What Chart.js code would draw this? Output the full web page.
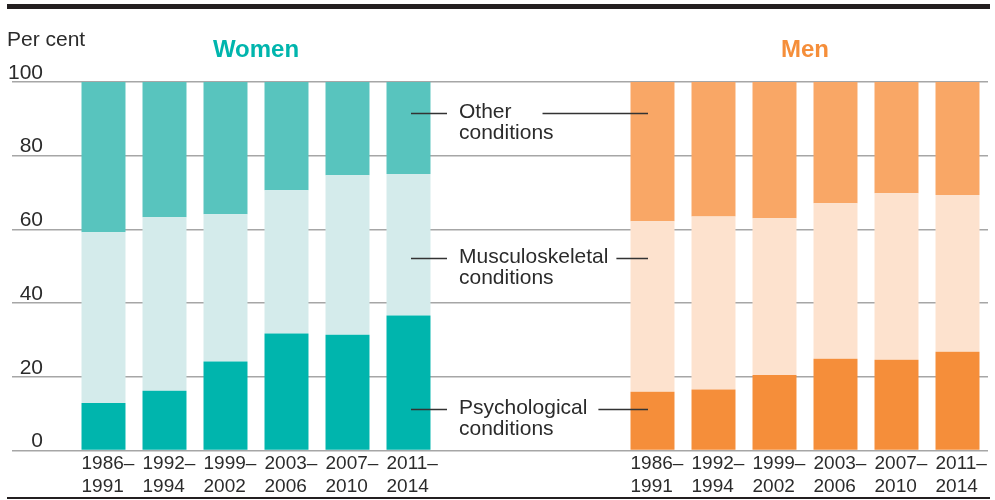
<!DOCTYPE html>
<html>
<head>
<meta charset="utf-8">
<script src="https://cdn.jsdelivr.net/npm/chart.js@4.4.1/dist/chart.umd.min.js"></script>
<style>
  html, body { margin: 0; padding: 0; background: #fff; }
  #wrap { width: 995px; height: 500px; }
</style>
</head>
<body>
<div id="wrap"><canvas id="chart" width="995" height="500"></canvas></div>
<script>
// Periods (x axis categories), same for both groups
const periods = [
    ['1986–', '1991'],
    ['1992–', '1994'],
    ['1999–', '2002'],
    ['2003–', '2006'],
    ['2007–', '2010'],
    ['2011–', '2014']
];

// Per cent shares, women
const womenPsych = [12.9, 16.2, 24.1, 31.7, 31.4, 36.6];
const womenMusc  = [46.3, 47.1, 40.0, 38.9, 43.3, 38.4];
const womenOther = [40.8, 36.7, 35.9, 29.4, 25.3, 25.0];

// Per cent shares, men
const menPsych = [15.9, 16.5, 20.5, 24.9, 24.6, 26.8];
const menMusc  = [46.3, 47.0, 42.5, 42.2, 45.2, 42.5];
const menOther = [37.8, 36.5, 37.0, 32.9, 30.2, 30.7];

const yTicks = [0, 20, 40, 60, 80, 100];

const groupTitles = ['Women', 'Men'];
const seriesNames = [['Other', 'conditions'], ['Musculoskeletal', 'conditions'], ['Psychological', 'conditions']];

// styling
const FONT = '"Liberation Sans", Arial, Helvetica, sans-serif';
const TEXT = '#2b2b2b';
const WOMEN = {psych: '#00b5ad', musc: '#d4ebeb', other: '#58c4be'};
const MEN = {psych: '#f58e3a', musc: '#fde2ce', other: '#f9a766'};

// layout: 1 empty slot, 6 women, 3 empty slots, 6 men
const labels = [''].concat(periods, ['', '', ''], periods);
const blank = [null, null, null];
const build = (w, m) => [null].concat(w, blank, m);
const colours = key => [null].concat(
    periods.map(() => WOMEN[key]), blank, periods.map(() => MEN[key]));

// where the label callouts sit (y value) and gap after the first text line
const callouts = [
    {names: seriesNames[0], value: 91.6, gap: 31},
    {names: seriesNames[1], value: 52.1, gap: 8},
    {names: seriesNames[2], value: 11.3, gap: 11}
];

const decor = {
    id: 'decor',
    beforeDraw(chart) {
        const ctx = chart.ctx;
        const x = chart.scales.x;
        ctx.save();
        // top and bottom rules
        ctx.fillStyle = '#231f20';
        ctx.fillRect(7, 4, 983, 5);
        ctx.fillRect(7, 497, 983, 2);

        ctx.fillStyle = TEXT;
        ctx.font = '21px ' + FONT;
        ctx.textAlign = 'left';
        ctx.textBaseline = 'alphabetic';
        ctx.fillText('Per cent', 7, 46);

        ctx.font = 'bold 24px ' + FONT;
        ctx.textAlign = 'center';
        ctx.fillStyle = WOMEN.psych;
        ctx.fillText(groupTitles[0], (x.getPixelForValue(1) + x.getPixelForValue(6)) / 2, 57);
        ctx.fillStyle = MEN.psych;
        ctx.fillText(groupTitles[1], (x.getPixelForValue(10) + x.getPixelForValue(15)) / 2, 57);
        ctx.restore();
    },
    afterDatasetsDraw(chart) {
        const ctx = chart.ctx;
        const x = chart.scales.x, y = chart.scales.y;
        const wx = x.getPixelForValue(6);
        const mx = x.getPixelForValue(10);
        ctx.save();
        ctx.strokeStyle = '#333';
        ctx.lineWidth = 1.5;
        ctx.fillStyle = TEXT;
        ctx.font = '21px ' + FONT;
        ctx.textAlign = 'left';
        ctx.textBaseline = 'middle';
        callouts.forEach(c => {
            const py = Math.round(y.getPixelForValue(c.value)) + 0.5;
            const tx = wx + 50.5;
            ctx.fillText(c.names[0], tx, py - 1);
            ctx.fillText(c.names[1], tx, py + 19.5);
            const endText = tx + ctx.measureText(c.names[0]).width;
            ctx.beginPath();
            ctx.moveTo(wx + 2.5, py);
            ctx.lineTo(wx + 38.5, py);
            ctx.moveTo(endText + c.gap, py);
            ctx.lineTo(mx - 4.5, py);
            ctx.stroke();
        });
        ctx.restore();
    }
};

new Chart(document.getElementById('chart'), {
    type: 'bar',
    data: {
        labels: labels,
        datasets: [
            {label: 'Psychological conditions', data: build(womenPsych, menPsych), backgroundColor: colours('psych')},
            {label: 'Musculoskeletal conditions', data: build(womenMusc, menMusc), backgroundColor: colours('musc')},
            {label: 'Other conditions', data: build(womenOther, menOther), backgroundColor: colours('other')}
        ]
    },
    options: {
        responsive: false,
        animation: false,
        devicePixelRatio: 1,
        layout: {padding: {top: 82, left: 12, right: 7, bottom: 0}},
        datasets: {bar: {barPercentage: 0.721, categoryPercentage: 1, borderWidth: 0}},
        plugins: {legend: {display: false}, tooltip: {enabled: false}},
        scales: {
            x: {
                stacked: true,
                grid: {display: false, drawTicks: false},
                border: {display: false},
                afterFit: s => { s.paddingLeft = 0; s.paddingRight = 0; },
                ticks: {
                    autoSkip: false,
                    maxRotation: 0,
                    align: 'start',
                    labelOffset: -22,
                    padding: 2,
                    color: TEXT,
                    font: {family: FONT, size: 19, lineHeight: 1.2}
                }
            },
            y: {
                stacked: true,
                min: 0,
                max: 100,
                afterBuildTicks: s => { s.ticks = yTicks.map(v => ({value: v})); },
                grid: {color: '#a6a6a6', lineWidth: 1.5, drawTicks: false},
                border: {display: false},
                afterFit: s => { s.width = 0; },
                ticks: {
                    mirror: true,
                    crossAlign: 'far',
                    padding: -4,
                    labelOffset: -9,
                    color: TEXT,
                    font: {family: FONT, size: 21}
                }
            }
        }
    },
    plugins: [decor]
});
</script>
</body>
</html>
